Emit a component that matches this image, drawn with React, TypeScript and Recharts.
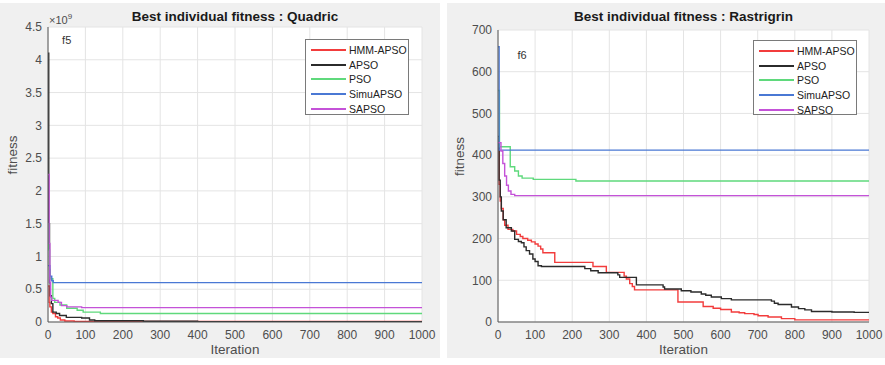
import { LineChart, Line, XAxis, YAxis, CartesianGrid, ReferenceDot } from "recharts";

const iterTicks = [0, 100, 200, 300, 400, 500, 600, 700, 800, 900, 1000];
const quadTicks = [0, 0.5, 1, 1.5, 2, 2.5, 3, 3.5, 4, 4.5];
const rastTicks = [0, 100, 200, 300, 400, 500, 600, 700];

const seriesNames = ["HMM-APSO", "APSO", "PSO", "SimuAPSO", "SAPSO"];
const seriesColors = ["#f23c3c", "#2b2b2b", "#5fd97c", "#4a78d4", "#c452d8"];

// f5 Quadric, fitness in units of 1e9 (iteration, value)
const quadHmm: [number, number][] = [
  [0, 0.55], [3, 0.3], [5, 0.23], [9, 0.15], [13, 0.13], [20, 0.08], [26, 0.06], [33, 0.03],
  [45, 0.015], [70, 0.008], [1000, 0.005],
];
const quadApso: [number, number][] = [
  [0, 4.1], [2, 1.5], [4, 0.6], [6, 0.4], [9, 0.28], [13, 0.15], [22, 0.13], [31, 0.1],
  [49, 0.07], [90, 0.06], [111, 0.03], [125, 0.02], [255, 0.012], [400, 0.006], [1000, 0.004],
];
const quadPso: [number, number][] = [
  [0, 1.5], [2, 1.1], [4, 0.8], [6, 0.66], [13, 0.36], [18, 0.3], [32, 0.26], [50, 0.21],
  [78, 0.18], [94, 0.15], [140, 0.13], [1000, 0.13],
];
const quadSimu: [number, number][] = [
  [0, 0.86], [5, 0.7], [10, 0.63], [14, 0.6], [1000, 0.6],
];
const quadSapso: [number, number][] = [
  [0, 2.25], [3, 1.2], [5, 0.6], [7, 0.38], [10, 0.33], [27, 0.3], [36, 0.25], [50, 0.23],
  [90, 0.22], [1000, 0.21],
];

// f6 Rastrigrin (iteration, value)
const rastHmm: [number, number][] = [
  [0, 430], [3, 330], [6, 290], [9, 272], [14, 245], [18, 232], [27, 222], [40, 218], [50, 210],
  [60, 205], [67, 200], [80, 196], [90, 192], [100, 187], [108, 182], [115, 175], [121, 166],
  [153, 143], [256, 133], [292, 119], [340, 110], [346, 103], [355, 92], [362, 85], [368, 77],
  [485, 48], [553, 37], [580, 33], [600, 30], [629, 24], [650, 22], [665, 20], [690, 18],
  [701, 15], [728, 12], [764, 8], [800, 5], [1000, 5],
];
const rastApso: [number, number][] = [
  [0, 445], [3, 340], [6, 300], [9, 266], [14, 245], [22, 226], [36, 218], [45, 198], [55, 193],
  [63, 190], [70, 180], [76, 171], [85, 163], [94, 151], [100, 145], [108, 135], [117, 133],
  [234, 128], [250, 123], [270, 118], [323, 113], [328, 107], [373, 89], [445, 84], [449, 79],
  [494, 75], [520, 72], [548, 67], [560, 64], [575, 60], [602, 56], [629, 53], [737, 50],
  [745, 45], [755, 42], [791, 36], [810, 32], [827, 29], [845, 25], [900, 24], [960, 23], [1000, 22],
];
const rastPso: [number, number][] = [
  [0, 555], [4, 420], [33, 372], [45, 362], [55, 350], [65, 345], [95, 342], [210, 338], [1000, 338],
];
const rastSimu: [number, number][] = [
  [0, 660], [3, 412], [1000, 412],
];
const rastSapso: [number, number][] = [
  [0, 430], [8, 410], [13, 380], [18, 350], [23, 328], [28, 314], [35, 306], [45, 303], [1000, 302],
];

const toPts = (arr: [number, number][]) => arr.map(([x, v]) => ({ x, v }));

const FONT = "'Liberation Sans', Arial, sans-serif";
const tickStyle = { fontSize: 12, fill: "#4d4d4d", fontFamily: FONT };

function LegendBox({ left, top, width, height }: { left: number; top: number; width: number; height: number }) {
  return (
    <div
      style={{
        position: "absolute", left, top, width, height, boxSizing: "border-box",
        background: "#fff", border: "1px solid #7a7a7a", padding: "3px 0 0 5px",
        fontFamily: FONT, fontSize: 10.5, color: "#222", whiteSpace: "nowrap",
      }}
    >
      {seriesNames.map((name, i) => (
        <div key={name} style={{ display: "flex", alignItems: "center", height: 14.6 }}>
          <span style={{ display: "inline-block", width: 35, height: 2, background: seriesColors[i], marginRight: 3, flexShrink: 0 }} />
          <span>{name}</span>
        </div>
      ))}
    </div>
  );
}

function Panel(props: {
  left: number; width: number; yWidth: number; top: number; right: number;
  title: string; yTicks: number[]; yMax: number; series: [number, number][][];
  tag: string; tagX: number; tagY: number; legend: { left: number; top: number; width: number; height: number };
  exponent?: boolean;
}) {
  const { left, width, yWidth, top, right, title, yTicks, yMax, series, tag, tagX, tagY, legend, exponent } = props;
  const plotLeft = yWidth;
  const plotRight = width - right;
  return (
    <div style={{ position: "absolute", left, top: 3, width, height: 355, background: "#f0f0f0" }}>
      <div
        style={{
          position: "absolute", top: 6, left: plotLeft, width: plotRight - plotLeft, textAlign: "center",
          fontFamily: FONT, fontWeight: "bold", fontSize: 13.5, color: "#1a1a1a",
        }}
      >
        {title}
      </div>
      {exponent && (
        <div style={{ position: "absolute", left: plotLeft + 1, top: 9, fontFamily: FONT, fontSize: 11, color: "#4d4d4d" }}>
          ×10<sup style={{ fontSize: 8 }}>9</sup>
        </div>
      )}
      <LineChart width={width} height={355} margin={{ top, right, bottom: 0, left: 0 }}>
        <CartesianGrid stroke="#e4e4e4" fill="#fff" />
        <XAxis
          dataKey="x" type="number" domain={[0, 1000]} ticks={iterTicks} allowDataOverflow
          height={36} tick={tickStyle} tickLine={false} tickSize={0} tickMargin={8}
          axisLine={{ stroke: "#555" }}
          label={{ value: "Iteration", position: "insideBottom", offset: 4, fontSize: 13.5, fill: "#4d4d4d", fontFamily: FONT }}
        />
        <YAxis
          type="number" domain={[0, yMax]} ticks={yTicks} allowDataOverflow width={yWidth}
          tick={tickStyle} tickLine={false} tickSize={0} tickMargin={6} axisLine={{ stroke: "#555" }}
          label={{ value: "fitness", angle: -90, position: "insideLeft", offset: 12, fontSize: 13.5, fill: "#4d4d4d", fontFamily: FONT }}
        />
        {series.map((s, i) => (
          <Line
            key={seriesNames[i]} data={toPts(s)} dataKey="v" type="stepAfter" stroke={seriesColors[i]}
            strokeWidth={1.4} dot={false} activeDot={false} isAnimationActive={false}
          />
        ))}
        <ReferenceDot
          x={tagX} y={tagY} r={0} fill="none" stroke="none"
          label={{ value: tag, position: "center", fontSize: 11, fill: "#333", fontFamily: FONT }}
        />
      </LineChart>
      <LegendBox {...legend} />
    </div>
  );
}

export default function App() {
  return (
    <div style={{ position: "absolute", left: 0, top: 0, width: 885, height: 365, background: "#fff" }}>
      <Panel
        left={0} width={440} yWidth={48} top={24} right={18}
        title="Best individual fitness : Quadric" yTicks={quadTicks} yMax={4.5}
        series={[quadHmm, quadApso, quadPso, quadSimu, quadSapso]}
        tag="f5" tagX={50} tagY={4.3} exponent
        legend={{ left: 305, top: 36, width: 104, height: 76 }}
      />
      <Panel
        left={447} width={438} yWidth={51} top={27} right={16}
        title="Best individual fitness : Rastrigrin" yTicks={rastTicks} yMax={700}
        series={[rastHmm, rastApso, rastPso, rastSimu, rastSapso]}
        tag="f6" tagX={65} tagY={640}
        legend={{ left: 306, top: 37, width: 104, height: 75 }}
      />
    </div>
  );
}
